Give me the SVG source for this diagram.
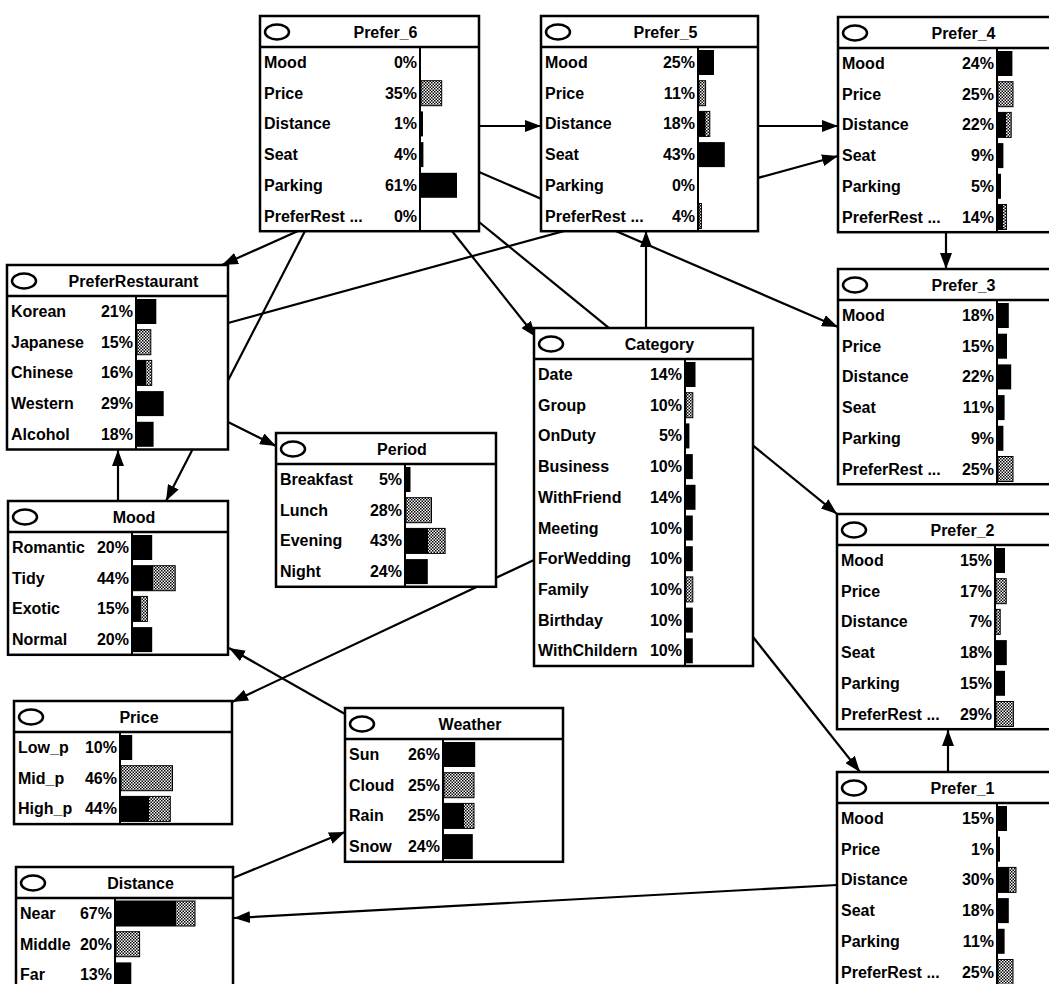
<svg xmlns="http://www.w3.org/2000/svg" width="1049" height="984" viewBox="0 0 1049 984">
<style>
.box{fill:#fff;stroke:#000;stroke-width:2.5}
.ln{stroke:#000;stroke-width:2.5}
.dv{stroke:#000;stroke-width:2}
.t{font-family:"Liberation Sans",Arial,sans-serif;font-weight:bold;font-size:16px;fill:#000}
.pc{text-anchor:end}
.ti{text-anchor:middle}
.s{fill:#000}
.d{fill:url(#dith);stroke:#000;stroke-width:1}
.ic{fill:#fff;stroke:#000;stroke-width:2.5}
.cn{stroke:#000;stroke-width:2.2;fill:none;marker-end:url(#ah)}
</style>
<defs>
<pattern id="dith" width="3" height="3" patternUnits="userSpaceOnUse">
<rect width="3" height="3" fill="#fff"/>
<rect width="1.5" height="1.5" fill="#000"/>
<rect x="1.5" y="1.5" width="1.5" height="1.5" fill="#000"/>
</pattern>
<marker id="ah" markerWidth="16" markerHeight="12" refX="16" refY="6" orient="auto" markerUnits="userSpaceOnUse">
<path d="M0,0 L16,6 L0,12 z" fill="#000"/>
</marker>
</defs>
<rect width="1049" height="984" fill="#fff"/>

<g id="connectors">
<line class="cn" x1="479" y1="126" x2="541" y2="126"/>
<line class="cn" x1="758" y1="126" x2="838" y2="126"/>
<line class="cn" x1="228" y1="323" x2="838" y2="156"/>
<line class="cn" x1="479" y1="172" x2="838" y2="327"/>
<line class="cn" x1="479" y1="222" x2="837" y2="514"/>
<line class="cn" x1="452" y1="231" x2="536" y2="337"/>
<line class="cn" x1="298" y1="231" x2="222" y2="265"/>
<line class="cn" x1="305" y1="231" x2="166" y2="501"/>
<line class="cn" x1="946" y1="232" x2="946" y2="269"/>
<line class="cn" x1="646" y1="328" x2="646" y2="231"/>
<line class="cn" x1="753" y1="637" x2="860" y2="772"/>
<line class="cn" x1="534" y1="560" x2="232" y2="702"/>
<line class="cn" x1="118" y1="501" x2="118" y2="450"/>
<line class="cn" x1="228" y1="422" x2="276" y2="446"/>
<line class="cn" x1="345" y1="714" x2="229" y2="648"/>
<line class="cn" x1="233" y1="878" x2="345" y2="832"/>
<line class="cn" x1="837" y1="885" x2="234" y2="918"/>
<line class="cn" x1="948" y1="772" x2="948" y2="730"/>
</g>

<g id="n-prefer6" transform="translate(260,16)">
<rect class="box" width="219" height="215.2"/>
<line class="ln" x1="0" y1="31" x2="219" y2="31"/>
<line class="dv" x1="160" y1="31" x2="160" y2="215.2"/>
<ellipse class="ic" cx="17" cy="16" rx="12" ry="7.5"/>
<text class="t ti" x="125.5" y="21.5">Prefer_6</text>
<text class="t" x="4" y="52">Mood</text><text class="t pc" x="157" y="52">0%</text>
<text class="t" x="4" y="82.7">Price</text><text class="t pc" x="157" y="82.7">35%</text>
<text class="t" x="4" y="113.4">Distance</text><text class="t pc" x="157" y="113.4">1%</text>
<text class="t" x="4" y="144.1">Seat</text><text class="t pc" x="157" y="144.1">4%</text>
<text class="t" x="4" y="174.8">Parking</text><text class="t pc" x="157" y="174.8">61%</text>
<text class="t" x="4" y="205.5">PreferRest ...</text><text class="t pc" x="157" y="205.5">0%</text>
<rect class="d" x="161" y="64.7" width="20.7" height="25"/>
<rect class="s" x="161" y="95.4" width="2" height="25"/>
<rect class="s" x="161" y="126.1" width="2.4" height="25"/>
<rect class="s" x="161" y="156.8" width="36" height="25"/>
</g>

<g id="n-prefer5" transform="translate(541,16)">
<rect class="box" width="217" height="215.2"/>
<line class="ln" x1="0" y1="31" x2="217" y2="31"/>
<line class="dv" x1="157" y1="31" x2="157" y2="215.2"/>
<ellipse class="ic" cx="17" cy="16" rx="12" ry="7.5"/>
<text class="t ti" x="124.5" y="21.5">Prefer_5</text>
<text class="t" x="4" y="52">Mood</text><text class="t pc" x="154" y="52">25%</text>
<text class="t" x="4" y="82.7">Price</text><text class="t pc" x="154" y="82.7">11%</text>
<text class="t" x="4" y="113.4">Distance</text><text class="t pc" x="154" y="113.4">18%</text>
<text class="t" x="4" y="144.1">Seat</text><text class="t pc" x="154" y="144.1">43%</text>
<text class="t" x="4" y="174.8">Parking</text><text class="t pc" x="154" y="174.8">0%</text>
<text class="t" x="4" y="205.5">PreferRest ...</text><text class="t pc" x="154" y="205.5">4%</text>
<rect class="s" x="158" y="34" width="15" height="25"/>
<rect class="d" x="158" y="64.7" width="6.6" height="25"/>
<rect class="d" x="158" y="95.4" width="10.8" height="25"/><rect class="s" x="158" y="95.4" width="6.5" height="25"/>
<rect class="s" x="158" y="126.1" width="25.8" height="25"/>
<rect class="d" x="158" y="187.5" width="2.4" height="25"/>
</g>

<g id="n-prefer4" transform="translate(838,17)">
<rect class="box" width="219" height="215.2"/>
<line class="ln" x1="0" y1="31" x2="219" y2="31"/>
<line class="dv" x1="159" y1="31" x2="159" y2="215.2"/>
<ellipse class="ic" cx="17" cy="16" rx="12" ry="7.5"/>
<text class="t ti" x="125.5" y="21.5">Prefer_4</text>
<text class="t" x="4" y="52">Mood</text><text class="t pc" x="156" y="52">24%</text>
<text class="t" x="4" y="82.7">Price</text><text class="t pc" x="156" y="82.7">25%</text>
<text class="t" x="4" y="113.4">Distance</text><text class="t pc" x="156" y="113.4">22%</text>
<text class="t" x="4" y="144.1">Seat</text><text class="t pc" x="156" y="144.1">9%</text>
<text class="t" x="4" y="174.8">Parking</text><text class="t pc" x="156" y="174.8">5%</text>
<text class="t" x="4" y="205.5">PreferRest ...</text><text class="t pc" x="156" y="205.5">14%</text>
<rect class="s" x="160" y="34" width="14.4" height="25"/>
<rect class="d" x="160" y="64.7" width="15" height="25"/>
<rect class="d" x="160" y="95.4" width="13.2" height="25"/><rect class="s" x="160" y="95.4" width="8" height="25"/>
<rect class="s" x="160" y="126.1" width="5.4" height="25"/>
<rect class="s" x="160" y="156.8" width="3" height="25"/>
<rect class="d" x="160" y="187.5" width="8.4" height="25"/><rect class="s" x="160" y="187.5" width="5" height="25"/>
</g>

<g id="n-prefer3" transform="translate(838,269)">
<rect class="box" width="219" height="215.2"/>
<line class="ln" x1="0" y1="31" x2="219" y2="31"/>
<line class="dv" x1="159" y1="31" x2="159" y2="215.2"/>
<ellipse class="ic" cx="17" cy="16" rx="12" ry="7.5"/>
<text class="t ti" x="125.5" y="21.5">Prefer_3</text>
<text class="t" x="4" y="52">Mood</text><text class="t pc" x="156" y="52">18%</text>
<text class="t" x="4" y="82.7">Price</text><text class="t pc" x="156" y="82.7">15%</text>
<text class="t" x="4" y="113.4">Distance</text><text class="t pc" x="156" y="113.4">22%</text>
<text class="t" x="4" y="144.1">Seat</text><text class="t pc" x="156" y="144.1">11%</text>
<text class="t" x="4" y="174.8">Parking</text><text class="t pc" x="156" y="174.8">9%</text>
<text class="t" x="4" y="205.5">PreferRest ...</text><text class="t pc" x="156" y="205.5">25%</text>
<rect class="s" x="160" y="34" width="10.8" height="25"/>
<rect class="s" x="160" y="64.7" width="9" height="25"/>
<rect class="s" x="160" y="95.4" width="13.2" height="25"/>
<rect class="s" x="160" y="126.1" width="6.6" height="25"/>
<rect class="s" x="160" y="156.8" width="5.4" height="25"/>
<rect class="d" x="160" y="187.5" width="15" height="25"/>
</g>

<g id="n-prefer2" transform="translate(837,514)">
<rect class="box" width="219" height="215.2"/>
<line class="ln" x1="0" y1="31" x2="219" y2="31"/>
<line class="dv" x1="158" y1="31" x2="158" y2="215.2"/>
<ellipse class="ic" cx="17" cy="16" rx="12" ry="7.5"/>
<text class="t ti" x="125.5" y="21.5">Prefer_2</text>
<text class="t" x="4" y="52">Mood</text><text class="t pc" x="155" y="52">15%</text>
<text class="t" x="4" y="82.7">Price</text><text class="t pc" x="155" y="82.7">17%</text>
<text class="t" x="4" y="113.4">Distance</text><text class="t pc" x="155" y="113.4">7%</text>
<text class="t" x="4" y="144.1">Seat</text><text class="t pc" x="155" y="144.1">18%</text>
<text class="t" x="4" y="174.8">Parking</text><text class="t pc" x="155" y="174.8">15%</text>
<text class="t" x="4" y="205.5">PreferRest ...</text><text class="t pc" x="155" y="205.5">29%</text>
<rect class="s" x="159" y="34" width="9" height="25"/>
<rect class="d" x="159" y="64.7" width="10.2" height="25"/>
<rect class="d" x="159" y="95.4" width="4.2" height="25"/>
<rect class="s" x="159" y="126.1" width="10.8" height="25"/>
<rect class="s" x="159" y="156.8" width="9" height="25"/>
<rect class="d" x="159" y="187.5" width="17.4" height="25"/>
</g>

<g id="n-prefer1" transform="translate(837,772)">
<rect class="box" width="219" height="215.2"/>
<line class="ln" x1="0" y1="31" x2="219" y2="31"/>
<line class="dv" x1="160" y1="31" x2="160" y2="215.2"/>
<ellipse class="ic" cx="17" cy="16" rx="12" ry="7.5"/>
<text class="t ti" x="125.5" y="21.5">Prefer_1</text>
<text class="t" x="4" y="52">Mood</text><text class="t pc" x="157" y="52">15%</text>
<text class="t" x="4" y="82.7">Price</text><text class="t pc" x="157" y="82.7">1%</text>
<text class="t" x="4" y="113.4">Distance</text><text class="t pc" x="157" y="113.4">30%</text>
<text class="t" x="4" y="144.1">Seat</text><text class="t pc" x="157" y="144.1">18%</text>
<text class="t" x="4" y="174.8">Parking</text><text class="t pc" x="157" y="174.8">11%</text>
<text class="t" x="4" y="205.5">PreferRest ...</text><text class="t pc" x="157" y="205.5">25%</text>
<rect class="s" x="161" y="34" width="9" height="25"/>
<rect class="s" x="161" y="64.7" width="2" height="25"/>
<rect class="d" x="161" y="95.4" width="18" height="25"/><rect class="s" x="161" y="95.4" width="11" height="25"/>
<rect class="s" x="161" y="126.1" width="10.8" height="25"/>
<rect class="s" x="161" y="156.8" width="6.6" height="25"/>
<rect class="d" x="161" y="187.5" width="15" height="25"/>
</g>

<g id="n-category" transform="translate(534,328)">
<rect class="box" width="219" height="338"/>
<line class="ln" x1="0" y1="31" x2="219" y2="31"/>
<line class="dv" x1="151" y1="31" x2="151" y2="338"/>
<ellipse class="ic" cx="17" cy="16" rx="12" ry="7.5"/>
<text class="t ti" x="125.5" y="21.5">Category</text>
<text class="t" x="4" y="52">Date</text><text class="t pc" x="148" y="52">14%</text>
<text class="t" x="4" y="82.7">Group</text><text class="t pc" x="148" y="82.7">10%</text>
<text class="t" x="4" y="113.4">OnDuty</text><text class="t pc" x="148" y="113.4">5%</text>
<text class="t" x="4" y="144.1">Business</text><text class="t pc" x="148" y="144.1">10%</text>
<text class="t" x="4" y="174.8">WithFriend</text><text class="t pc" x="148" y="174.8">14%</text>
<text class="t" x="4" y="205.5">Meeting</text><text class="t pc" x="148" y="205.5">10%</text>
<text class="t" x="4" y="236.2">ForWedding</text><text class="t pc" x="148" y="236.2">10%</text>
<text class="t" x="4" y="266.9">Family</text><text class="t pc" x="148" y="266.9">10%</text>
<text class="t" x="4" y="297.6">Birthday</text><text class="t pc" x="148" y="297.6">10%</text>
<text class="t" x="4" y="328.3">WithChildern</text><text class="t pc" x="148" y="328.3">10%</text>
<rect class="s" x="152" y="34" width="9.5" height="25"/>
<rect class="d" x="152" y="64.7" width="6.8" height="25"/>
<rect class="s" x="152" y="95.4" width="3.4" height="25"/>
<rect class="s" x="152" y="126.1" width="6.8" height="25"/>
<rect class="s" x="152" y="156.8" width="9.5" height="25"/>
<rect class="s" x="152" y="187.5" width="6.8" height="25"/>
<rect class="s" x="152" y="218.2" width="6.8" height="25"/>
<rect class="d" x="152" y="248.9" width="6.8" height="25"/>
<rect class="s" x="152" y="279.6" width="6.8" height="25"/>
<rect class="s" x="152" y="310.3" width="6.8" height="25"/>
</g>

<g id="n-preferrestaurant" transform="translate(7,265)">
<rect class="box" width="221" height="184.5"/>
<line class="ln" x1="0" y1="31" x2="221" y2="31"/>
<line class="dv" x1="129" y1="31" x2="129" y2="184.5"/>
<ellipse class="ic" cx="17" cy="16" rx="12" ry="7.5"/>
<text class="t ti" x="126.5" y="21.5">PreferRestaurant</text>
<text class="t" x="4" y="52">Korean</text><text class="t pc" x="126" y="52">21%</text>
<text class="t" x="4" y="82.7">Japanese</text><text class="t pc" x="126" y="82.7">15%</text>
<text class="t" x="4" y="113.4">Chinese</text><text class="t pc" x="126" y="113.4">16%</text>
<text class="t" x="4" y="144.1">Western</text><text class="t pc" x="126" y="144.1">29%</text>
<text class="t" x="4" y="174.8">Alcohol</text><text class="t pc" x="126" y="174.8">18%</text>
<rect class="s" x="130" y="34" width="19.3" height="25"/>
<rect class="d" x="130" y="64.7" width="13.8" height="25"/>
<rect class="d" x="130" y="95.4" width="14.7" height="25"/><rect class="s" x="130" y="95.4" width="9" height="25"/>
<rect class="s" x="130" y="126.1" width="26.7" height="25"/>
<rect class="s" x="130" y="156.8" width="16.6" height="25"/>
</g>

<g id="n-mood" transform="translate(8,501)">
<rect class="box" width="220" height="153.8"/>
<line class="ln" x1="0" y1="31" x2="220" y2="31"/>
<line class="dv" x1="124" y1="31" x2="124" y2="153.8"/>
<ellipse class="ic" cx="17" cy="16" rx="12" ry="7.5"/>
<text class="t ti" x="126" y="21.5">Mood</text>
<text class="t" x="4" y="52">Romantic</text><text class="t pc" x="121" y="52">20%</text>
<text class="t" x="4" y="82.7">Tidy</text><text class="t pc" x="121" y="82.7">44%</text>
<text class="t" x="4" y="113.4">Exotic</text><text class="t pc" x="121" y="113.4">15%</text>
<text class="t" x="4" y="144.1">Normal</text><text class="t pc" x="121" y="144.1">20%</text>
<rect class="s" x="125" y="34" width="19.2" height="25"/>
<rect class="d" x="125" y="64.7" width="42.2" height="25"/><rect class="s" x="125" y="64.7" width="20" height="25"/>
<rect class="d" x="125" y="95.4" width="14.4" height="25"/><rect class="s" x="125" y="95.4" width="8" height="25"/>
<rect class="s" x="125" y="126.1" width="19.2" height="25"/>
</g>

<g id="n-period" transform="translate(276,433)">
<rect class="box" width="220" height="153.8"/>
<line class="ln" x1="0" y1="31" x2="220" y2="31"/>
<line class="dv" x1="129" y1="31" x2="129" y2="153.8"/>
<ellipse class="ic" cx="17" cy="16" rx="12" ry="7.5"/>
<text class="t ti" x="126" y="21.5">Period</text>
<text class="t" x="4" y="52">Breakfast</text><text class="t pc" x="126" y="52">5%</text>
<text class="t" x="4" y="82.7">Lunch</text><text class="t pc" x="126" y="82.7">28%</text>
<text class="t" x="4" y="113.4">Evening</text><text class="t pc" x="126" y="113.4">43%</text>
<text class="t" x="4" y="144.1">Night</text><text class="t pc" x="126" y="144.1">24%</text>
<rect class="s" x="130" y="34" width="4.5" height="25"/>
<rect class="d" x="130" y="64.7" width="25.5" height="25"/>
<rect class="d" x="130" y="95.4" width="39.1" height="25"/><rect class="s" x="130" y="95.4" width="22" height="25"/>
<rect class="s" x="130" y="126.1" width="21.8" height="25"/>
</g>

<g id="n-price" transform="translate(14,701)">
<rect class="box" width="218" height="123.1"/>
<line class="ln" x1="0" y1="31" x2="218" y2="31"/>
<line class="dv" x1="106" y1="31" x2="106" y2="123.1"/>
<ellipse class="ic" cx="17" cy="16" rx="12" ry="7.5"/>
<text class="t ti" x="125" y="21.5">Price</text>
<text class="t" x="4" y="52">Low_p</text><text class="t pc" x="103" y="52">10%</text>
<text class="t" x="4" y="82.7">Mid_p</text><text class="t pc" x="103" y="82.7">46%</text>
<text class="t" x="4" y="113.4">High_p</text><text class="t pc" x="103" y="113.4">44%</text>
<rect class="s" x="107" y="34" width="11.2" height="25"/>
<rect class="d" x="107" y="64.7" width="51.5" height="25"/>
<rect class="d" x="107" y="95.4" width="49.3" height="25"/><rect class="s" x="107" y="95.4" width="28" height="25"/>
</g>

<g id="n-weather" transform="translate(345,708)">
<rect class="box" width="218" height="153.8"/>
<line class="ln" x1="0" y1="31" x2="218" y2="31"/>
<line class="dv" x1="98" y1="31" x2="98" y2="153.8"/>
<ellipse class="ic" cx="17" cy="16" rx="12" ry="7.5"/>
<text class="t ti" x="125" y="21.5">Weather</text>
<text class="t" x="4" y="52">Sun</text><text class="t pc" x="95" y="52">26%</text>
<text class="t" x="4" y="82.7">Cloud</text><text class="t pc" x="95" y="82.7">25%</text>
<text class="t" x="4" y="113.4">Rain</text><text class="t pc" x="95" y="113.4">25%</text>
<text class="t" x="4" y="144.1">Snow</text><text class="t pc" x="95" y="144.1">24%</text>
<rect class="s" x="99" y="34" width="31.2" height="25"/>
<rect class="d" x="99" y="64.7" width="30" height="25"/>
<rect class="d" x="99" y="95.4" width="30" height="25"/><rect class="s" x="99" y="95.4" width="20" height="25"/>
<rect class="s" x="99" y="126.1" width="28.8" height="25"/>
</g>

<g id="n-distance" transform="translate(16,867)">
<rect class="box" width="217" height="123.1"/>
<line class="ln" x1="0" y1="31" x2="217" y2="31"/>
<line class="dv" x1="99" y1="31" x2="99" y2="123.1"/>
<ellipse class="ic" cx="17" cy="16" rx="12" ry="7.5"/>
<text class="t ti" x="124.5" y="21.5">Distance</text>
<text class="t" x="4" y="52">Near</text><text class="t pc" x="96" y="52">67%</text>
<text class="t" x="4" y="82.7">Middle</text><text class="t pc" x="96" y="82.7">20%</text>
<text class="t" x="4" y="113.4">Far</text><text class="t pc" x="96" y="113.4">13%</text>
<rect class="d" x="100" y="34" width="79" height="25"/><rect class="s" x="100" y="34" width="60" height="25"/>
<rect class="d" x="100" y="64.7" width="23.6" height="25"/>
<rect class="s" x="100" y="95.4" width="15.3" height="25"/>
</g>
</svg>
